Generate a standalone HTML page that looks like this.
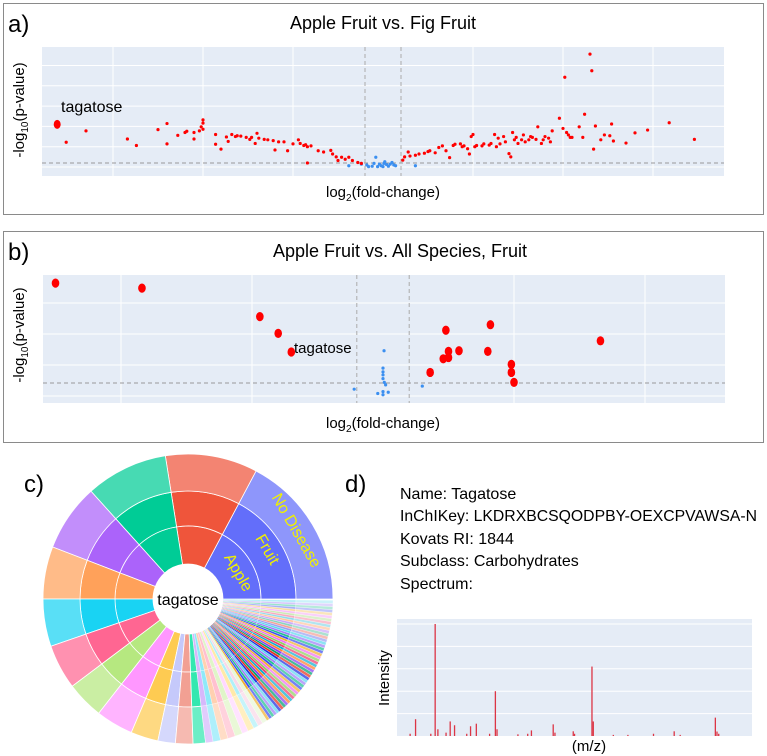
<!DOCTYPE html>
<html><head><meta charset="utf-8"><style>
html,body{margin:0;padding:0;background:#fff;}
svg{display:block;font-family:"Liberation Sans",sans-serif;}
</style></head><body>
<svg id="fig" width="767" height="756" viewBox="0 0 767 756" xmlns="http://www.w3.org/2000/svg">
<!-- Panel a -->
<g>
<rect x="3.5" y="3.5" width="760" height="211" fill="none" stroke="#8a8a8a"/>
<text x="8" y="32" font-size="24">a)</text>
<text x="383" y="29" font-size="18" text-anchor="middle">Apple Fruit vs. Fig Fruit</text>
<rect x="42" y="47" width="682" height="129" fill="#e5ecf6"/>
<g id="gridA"></g>
<g id="dotsA"></g>
<text x="61" y="112" font-size="16">tagatose</text>
<text x="383" y="197" font-size="15" text-anchor="middle">log<tspan font-size="10" dy="4">2</tspan><tspan dy="-4">(fold-change)</tspan></text>
<text transform="translate(24,110) rotate(-90)" font-size="15" text-anchor="middle">-log<tspan font-size="10" dy="4">10</tspan><tspan dy="-4">(p-value)</tspan></text>
</g>
<!-- Panel b -->
<g>
<rect x="3.5" y="231.5" width="760" height="211" fill="none" stroke="#8a8a8a"/>
<text x="8" y="260" font-size="24">b)</text>
<text x="400" y="257" font-size="18" text-anchor="middle">Apple Fruit vs. All Species, Fruit</text>
<rect x="43" y="275" width="682" height="128" fill="#e5ecf6"/>
<g id="gridB"></g>
<g id="dotsB"></g>
<text x="294" y="353" font-size="15">tagatose</text>
<text x="383" y="428" font-size="15" text-anchor="middle">log<tspan font-size="10" dy="4">2</tspan><tspan dy="-4">(fold-change)</tspan></text>
<text transform="translate(24,335) rotate(-90)" font-size="15" text-anchor="middle">-log<tspan font-size="10" dy="4">10</tspan><tspan dy="-4">(p-value)</tspan></text>
</g>
<!-- Panel c -->
<g>
<text x="24" y="492" font-size="24">c)</text>
<g id="sun"></g>
<text x="188" y="605" font-size="16" text-anchor="middle">tagatose</text>
<text transform="translate(234,575) rotate(60)" font-size="16" fill="#f0f000" text-anchor="middle">Apple</text>
<text transform="translate(263,552) rotate(60)" font-size="16" fill="#f0f000" text-anchor="middle">Fruit</text>
<text transform="translate(292,533) rotate(60)" font-size="16" fill="#f0f000" text-anchor="middle">No Disease</text>
</g>
<!-- Panel d -->
<g>
<text x="345" y="492" font-size="24">d)</text>
<g font-size="16">
<text x="400" y="499">Name: Tagatose</text>
<text x="400" y="521" textLength="357" lengthAdjust="spacingAndGlyphs">InChIKey: LKDRXBCSQODPBY-OEXCPVAWSA-N</text>
<text x="400" y="544">Kovats RI: 1844</text>
<text x="400" y="566">Subclass: Carbohydrates</text>
<text x="400" y="589">Spectrum:</text>
</g>
<rect x="397" y="619" width="355" height="117" fill="#e5ecf6"/>
<g id="gridS"></g>
<g id="barsS"></g>
<text x="589" y="751" font-size="15" text-anchor="middle">(m/z)</text>
<text transform="translate(389,678) rotate(-90)" font-size="15" text-anchor="middle">Intensity</text>
</g>
</svg>
<script>
// ---- Panel a data ----
const aRedX = [-17.6,-16.5,-14.2,-13.7,-12.5,-12.0,-12.0,-11.4,-11.0,-10.9,-10.5,-10.5,-10.2,-10.1,-10.0,-10.0,-10.0,-9.3,-9.3,-9.0,-8.7,-8.6,-8.4,-8.2,-8.1,-7.9,-7.6,-7.4,-7.3,-7.1,-7.0,-6.9,-6.6,-6.4,-6.1,-6.0,-5.8,-5.5,-5.3,-5.0,-4.7,-4.6,-4.4,-4.3,-4.2,-4.0,-4.2,-3.6,-3.3,-2.9,-2.8,-2.6,-2.5,-2.3,-2.1,-1.9,-1.7,-1.4,-1.2,
1.1,1.2,1.4,1.5,1.8,2.0,2.3,2.5,2.6,2.9,3.1,3.3,3.5,3.7,3.9,4.0,4.3,4.4,4.5,4.7,4.8,4.9,5.0,5.1,5.2,5.5,5.6,5.9,6.0,6.2,6.3,6.4,6.5,6.7,6.8,7.0,7.1,7.2,7.3,7.4,7.5,7.7,7.8,7.9,8.1,8.2,8.3,8.5,8.6,8.8,8.9,9.0,9.2,9.3,9.4,9.8,10.0,10.1,10.2,10.3,10.4,10.5,10.9,11.1,11.2,11.5,11.6,11.7,11.8,12.1,12.3,12.6,12.7,12.8,13.5,14.0,14.7,15.9,17.3];
const aRedY = [6.1,8.9,6.9,5.3,9.2,10.7,5.7,7.8,8.5,8.8,6.9,8.5,8.9,9.9,11.6,10.8,9.3,8.0,5.6,4.4,7.4,6.3,8.0,7.5,7.7,7.6,7.3,6.8,7.3,5.8,8.3,7.1,6.8,6.7,6.5,4.2,6.2,6.2,4.0,5.7,6.7,5.8,5.3,5.5,5.0,5.2,1.0,4.0,3.7,4.1,3.2,2.5,1.6,2.4,1.9,2.4,1.6,1.1,0.9,
1.7,2.5,3.7,2.7,2.9,3.2,3.4,3.8,4.0,3.5,4.8,5.2,4.0,2.3,5.3,5.6,5.7,5.0,5.2,4.5,3.2,7.5,8.0,5.0,5.3,5.2,5.7,5.4,5.8,8.0,5.0,7.1,5.7,7.5,6.2,3.3,2.5,8.5,6.7,7.3,5.8,6.7,7.9,6.2,6.7,7.5,7.3,6.8,9.9,5.8,6.7,7.5,7.1,6.2,8.9,12.0,9.5,22.1,8.5,7.9,7.3,7.3,9.9,7.3,13.0,27.8,23.7,4.4,10.1,6.7,7.9,7.7,10.6,6.4,5.9,8.4,9.1,10.9,6.8];
const aBlueX = [-0.9,-0.6,-0.4,-0.2,-0.1,0.05,0.2,0.3,0.5,0.6,0.7,-1.9,1.8,-1.2,0,0.1,-0.3,0.4,-0.5,-0.8];
const aBlueY = [0.5,0.2,2.4,0.7,0.3,0.9,0.6,0.2,1.1,0.5,0.3,0.3,0.3,0.7,0.1,1.3,0.1,0.7,0.9,0.1];
const aHighlightX = [-18.1];
const aHighlightY = [10.5];
const aGridY = [0,5,10,15,20,25];
const aGridX = [-15,-10,-5,5,10,15];
const aThreshY = 1.0, aThreshX = [-1,1];

// ---- Panel b data ----
const bRedX = [-12.5,-9.2,-4.7,-4.0,-3.5,2.4,4.1,8.3,2.5,2.9,4.0,2.3,2.5,1.8,4.9,4.9,5.0];
const bRedY = [18.2,17.4,12.8,10.1,7.1,10.6,11.5,8.9,7.2,7.3,7.2,6.0,6.2,3.8,5.1,3.8,2.2];
const bBlueX = [0.04,0,0,0,0,0.05,0.1,-1.1,-0.2,0,0,0.2,1.5];
const bBlueY = [7.3,4.5,3.9,3.4,2.8,2.2,1.8,1.1,0.4,0.7,0.2,0.6,1.6];
const bGridY = [0,5,10,15];
const bGridX = [-10,-5,5,10];
const bThreshY = 2.1, bThreshX = [-1,1];

// ---- Sunburst data (degrees per slice, counterclockwise from east) ----
const sunSizes = [62,37,33,27,21,19,18,15,15,11,7,7,5,3,3,3,3,3,2.5,2.5,2,2,2,
1.2,1.2,1.2,1.2,1.2,1.2,1.2,1.2,1.2,1.2,1.2,1.2,1.2,1.2,1.2,1.2,1.2,1.2,1.2,1.2,1.2,1.2,1.2,1.2,1.2,1.2,1.2,1.2,1.2,1.2,1.2,1.2,1.2,1.2,1.2,1.2,1.2,1.2,1.2,1.2,1.2,1.2,1.2,1.2,1.2,1.2,1.3];
const sunColors = ['#636efa','#ef553b','#00cc96','#ab63fa','#ffa15a','#19d3f3','#ff6692','#b6e880','#ff97ff','#fecb52','#c5c9fb','#f2a093','#33e8b0','#d6b8fb','#8fe9f9','#ffd0b0','#ffc0d0','#e0f5c8','#ffd8ff','#ffe9a8','#b0f0f8','#f8d8e8','#e8f8d8'];
const sunPalette = ['#1f2fe0','#e63020','#00a070','#8a3ff0','#ff8030','#10b0d0','#f04070','#90d060','#f070f0','#f0b030','#4050f0','#20c090','#a080f8','#60d8f0'];

// ---- Spectrum data ----
const specMz = [50,55,69,73,75.5,83,86.8,90.8,102,105.5,110.8,123,128.3,129.8,149,158,161.4,181.4,183,199.8,201,217,218.2,236.6,250,273.5,292.5,298,330.3,331.8,333.4];
const specInt = [2,15,2,100,6,3,13,9.6,2,8.7,11,2,40,6,1.5,2,5,10.4,3,4.2,2,62,13,1,1,2,4.2,1,16.4,4,2];
const specGrid = [20,40,60,80,100];

const NS='http://www.w3.org/2000/svg';
function mk(tag, attrs, parent){const e=document.createElementNS(NS,tag);for(const k in attrs)e.setAttribute(k,attrs[k]);parent.appendChild(e);return e;}

// Panel a scales
const xA = v => 383 + v*18, yA = w => 167 - w*4.06;
const gA = document.getElementById('gridA');
aGridY.forEach(v=>{const l=mk('line',{x1:42,x2:724,y1:yA(v),y2:yA(v),stroke:'#fff','stroke-width':1},gA);

});
aGridX.forEach(v=>{const l=mk('line',{x1:xA(v),x2:xA(v),y1:47,y2:176,stroke:'#fff','stroke-width':1},gA);

});
{const l=mk('line',{x1:42,x2:724,y1:yA(aThreshY),y2:yA(aThreshY),stroke:'#999','stroke-dasharray':'4,3'},gA);

}
aThreshX.forEach(v=>{const l=mk('line',{x1:xA(v),x2:xA(v),y1:47,y2:176,stroke:'#aaa','stroke-dasharray':'4,3'},gA);

});
const dA=document.getElementById('dotsA');
aBlueX.forEach((v,i)=>{const c=mk('circle',{cx:xA(v),cy:yA(aBlueY[i]),r:1.6,fill:'#3b8ff0'},dA);

});
aRedX.forEach((v,i)=>{const c=mk('circle',{cx:xA(v),cy:yA(aRedY[i]),r:1.6,fill:'#ff0000'},dA);

});
aHighlightX.forEach((v,i)=>{const c=mk('ellipse',{cx:xA(v),cy:yA(aHighlightY[i]),rx:3.5,ry:4.5,fill:'#ff0000'},dA);

});

// Panel b scales
const xB = v => 383 + v*26.2, yB = w => 396 - w*6.2;
const gB=document.getElementById('gridB');
bGridY.forEach(v=>{const l=mk('line',{x1:43,x2:725,y1:yB(v),y2:yB(v),stroke:'#fff'},gB);

});
bGridX.forEach(v=>{const l=mk('line',{x1:xB(v),x2:xB(v),y1:275,y2:403,stroke:'#fff'},gB);

});
{const l=mk('line',{x1:43,x2:725,y1:yB(bThreshY),y2:yB(bThreshY),stroke:'#999','stroke-dasharray':'4,3'},gB);

}
bThreshX.forEach(v=>{const l=mk('line',{x1:xB(v),x2:xB(v),y1:275,y2:403,stroke:'#aaa','stroke-dasharray':'4,3'},gB);

});
const dB=document.getElementById('dotsB');
bBlueX.forEach((v,i)=>{const c=mk('circle',{cx:xB(v),cy:yB(bBlueY[i]),r:1.6,fill:'#3b8ff0'},dB);

});
bRedX.forEach((v,i)=>{const c=mk('ellipse',{cx:xB(v),cy:yB(bRedY[i]),rx:3.8,ry:4.6,fill:'#ff0000'},dB);

});

// Sunburst
const cx=188, cy=599, rings=[[35,73,1],[73,108,1],[108,145,0.72]];
const sun=document.getElementById('sun');
function arc(r0,r1,a0,a1){const t0=a0*Math.PI/180,t1=a1*Math.PI/180;const lg=(a1-a0)>180?1:0;
const p=(r,t)=>[(cx+r*Math.cos(t)).toFixed(2),(cy-r*Math.sin(t)).toFixed(2)];
const A=p(r1,t0),B=p(r1,t1),C=p(r0,t1),D=p(r0,t0);
return `M${A}A${r1},${r1} 0 ${lg} 0 ${B}L${C}A${r0},${r0} 0 ${lg} 1 ${D}Z`;}
let ang=0;
const nS=sunSizes.length;
sunSizes.forEach((s,i)=>{const col=i<sunColors.length?sunColors[i]:sunPalette[i%sunPalette.length];
const fade=(i>=nS-14)?0.45:1;
rings.forEach((rg,j)=>{const p=mk('path',{d:arc(rg[0],rg[1],ang,ang+s),fill:col,'fill-opacity':rg[2]*fade,stroke:'#fff','stroke-width':i<13?0.8:0.3},sun);

});
ang+=s;});
{const c=mk('circle',{cx:cx,cy:cy,r:35,fill:'#fff'},sun);

}

// Spectrum
const xS = m => 397 + (m-38)*(355/326), yS = h => 736 - h*1.12;
const gS=document.getElementById('gridS');
specGrid.forEach(v=>{const l=mk('line',{x1:397,x2:752,y1:yS(v),y2:yS(v),stroke:'#fff'},gS);

});
const bS=document.getElementById('barsS');
specMz.forEach((m,i)=>{const h=specInt[i];const r=mk('rect',{x:xS(m)-0.6,y:yS(h),width:1.3,height:736-yS(h),fill:'#dc3545'},bS);

});
</script>
</body></html>
